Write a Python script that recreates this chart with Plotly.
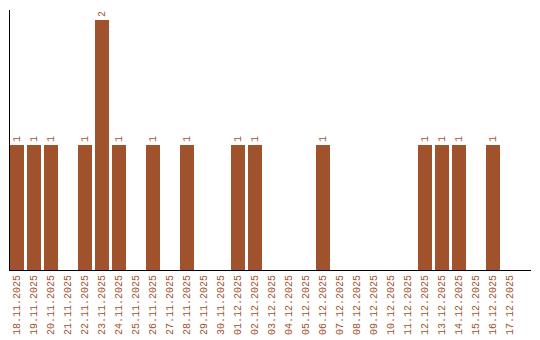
import plotly.graph_objects as go

dates = ["18.11.2025","19.11.2025","20.11.2025","21.11.2025","22.11.2025","23.11.2025",
         "24.11.2025","25.11.2025","26.11.2025","27.11.2025","28.11.2025","29.11.2025",
         "30.11.2025","01.12.2025","02.12.2025","03.12.2025","04.12.2025","05.12.2025",
         "06.12.2025","07.12.2025","08.12.2025","09.12.2025","10.12.2025","11.12.2025",
         "12.12.2025","13.12.2025","14.12.2025","15.12.2025","16.12.2025","17.12.2025"]
counts = [1,1,1,0,1,2,1,0,1,0,1,0,0,1,1,0,0,0,1,0,0,0,0,0,1,1,1,0,1,0]

color = "#A0522D"
labels = [str(v) if v else "" for v in counts]
idx = list(range(len(dates)))
bar_w = 14 / 17

fig = go.Figure(go.Bar(
    x=idx, y=counts, width=bar_w, marker_color=color, marker_line_width=0,
    text=labels, textposition="outside", textangle=-90,
    textfont=dict(family="Liberation Mono", size=10, color=color),
    cliponaxis=False,
))
fig.update_layout(
    width=540, height=340,
    margin=dict(l=10, r=9, t=10, b=70, autoexpand=False),
    plot_bgcolor="white", paper_bgcolor="white",
    showlegend=False,
)
fig.update_xaxes(range=[-bar_w / 2, -bar_w / 2 + 521 / 17],
                 tickmode="array", tickvals=idx, ticktext=dates,
                 showline=True, linecolor="black", linewidth=1, automargin=False,
                 showgrid=False, zeroline=False, ticks="", tickangle=-90,
                 tickfont=dict(family="Liberation Mono", size=10, color=color))
fig.update_yaxes(range=[0, 2.08], showline=True, linecolor="black", linewidth=1,
                 showgrid=False, zeroline=False, showticklabels=False, ticks="",
                 automargin=False)
fig.write_html("out.html")
